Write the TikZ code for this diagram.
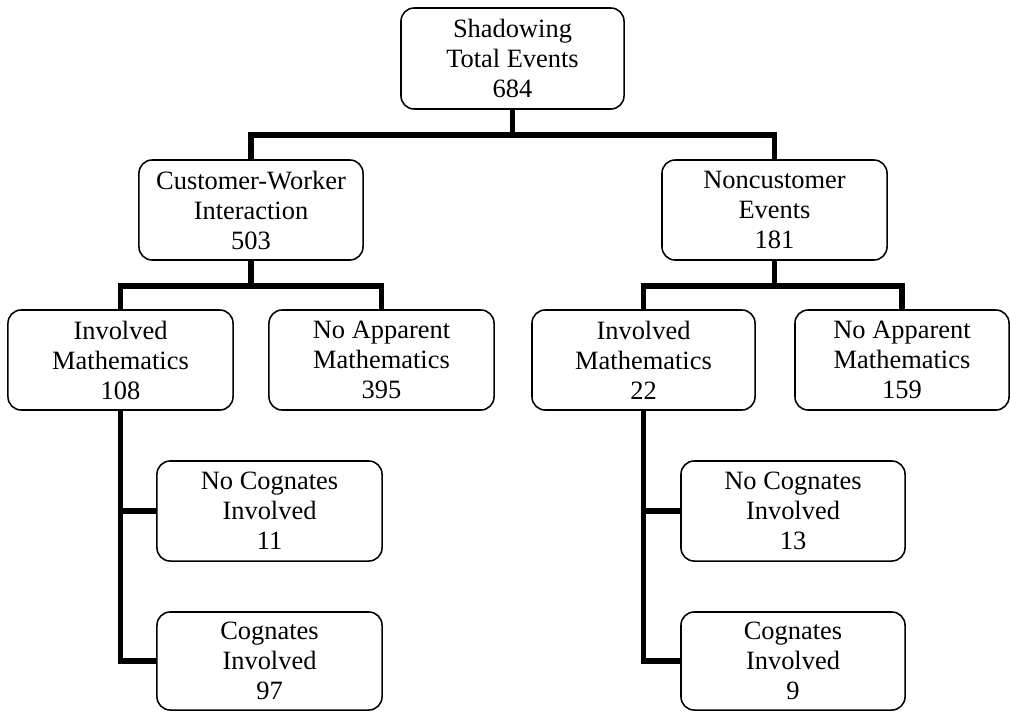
\documentclass[tikz,border=0pt]{standalone}
\usepackage{fontspec}
\setmainfont{Liberation Serif}
\usepackage{tikz}

\begin{document}
\begin{tikzpicture}[x=0.025cm, y=-0.025cm]
        \tikzset{BoxStyle/.style={draw, line width=1.1pt, rounded corners=0.33cm,
                 align=center, inner sep=0pt, minimum width=5.6cm, minimum height=2.5cm,
                 font=\fontsize{18.8pt}{21.3pt}\selectfont}}
        \tikzset{EdgeStyle/.style={line width=3.6pt, line join=miter}}
        \useasboundingbox (0,0) rectangle (1010,711);
        \node[BoxStyle, minimum width=5.575cm, minimum height=2.525cm] (T) at (512.5,58.5) {Shadowing\\Total Events\\684};
        \node[BoxStyle] (CW) at (251,210) {Customer-Worker\\Interaction\\503};
        \node[BoxStyle, minimum width=5.625cm] (NC) at (774.5,210) {Noncustomer\\Events\\181};
        \node[BoxStyle, minimum width=5.625cm] (IMa) at (120.5,360) {Involved\\Mathematics\\108};
        \node[BoxStyle, minimum width=5.625cm] (NAa) at (381.5,360) {No Apparent\\Mathematics\\395};
        \node[BoxStyle, minimum width=5.575cm] (IMb) at (643.5,360) {Involved\\Mathematics\\22};
        \node[BoxStyle, minimum width=5.35cm] (NAb) at (902,360) {No Apparent\\Mathematics\\159};
        \node[BoxStyle, minimum width=5.625cm] (NCa) at (269.5,511) {No Cognates\\Involved\\11};
        \node[BoxStyle, minimum width=5.625cm, minimum height=2.45cm] (CGa) at (269.5,661) {Cognates\\Involved\\97};
        \node[BoxStyle] (NCb) at (793,511) {No Cognates\\Involved\\13};
        \node[BoxStyle, minimum height=2.45cm] (CGb) at (793,661) {Cognates\\Involved\\9};
        \coordinate (barA) at (0,135);
        \coordinate (barB) at (0,286);
        \draw[EdgeStyle] (T.south) -- (T.south |- barA);
        \draw[EdgeStyle] (CW.north) -- (CW.north |- barA) -- (NC.north |- barA) -- (NC.north);
        \draw[EdgeStyle] (CW.south) -- (CW.south |- barB);
        \draw[EdgeStyle] (IMa.north) -- (IMa.north |- barB) -- (NAa.north |- barB) -- (NAa.north);
        \draw[EdgeStyle] (NC.south) -- (NC.south |- barB);
        \draw[EdgeStyle] (IMb.north) -- (IMb.north |- barB) -- (NAb.north |- barB) -- (NAb.north);
        \draw[EdgeStyle] (IMa.south) |- (CGa.west);
        \draw[EdgeStyle] (IMa.south |- NCa.west) -- (NCa.west);
        \draw[EdgeStyle] (IMb.south) |- (CGb.west);
        \draw[EdgeStyle] (IMb.south |- NCb.west) -- (NCb.west);
    \end{tikzpicture}
\end{document}
